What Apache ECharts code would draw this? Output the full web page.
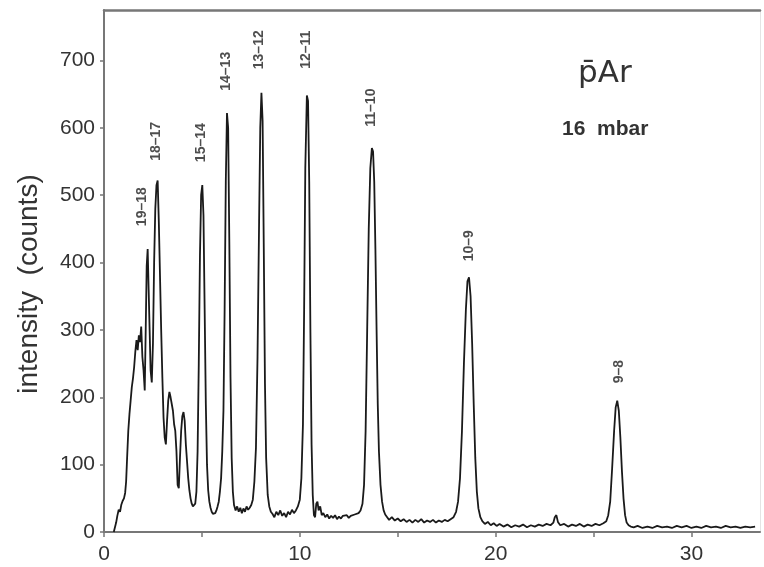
<!DOCTYPE html>
<html>
<head>
<meta charset="utf-8">
<script src="https://cdn.jsdelivr.net/npm/echarts@6/dist/echarts.min.js"></script>
<style>
  html, body { margin: 0; padding: 0; background: #fff; }
  #chart { width: 764px; height: 567px; }
</style>
</head>
<body>
<div id="chart"></div>
<script>
// x-ray energy (keV) and counts
var energy = [
  0.50, 0.56, 0.62, 0.68, 0.75, 0.82, 0.88, 0.95, 1.02, 1.08, 1.13, 1.18, 1.24, 1.30, 1.36, 1.42,
  1.48, 1.54, 1.60, 1.66, 1.72, 1.78, 1.84, 1.90, 1.96, 2.02, 2.08, 2.13, 2.18, 2.23, 2.28, 2.33,
  2.38, 2.44, 2.50, 2.56, 2.62, 2.68, 2.74, 2.80, 2.86, 2.92, 2.98, 3.04, 3.10, 3.16, 3.22, 3.28,
  3.34, 3.40, 3.46, 3.52, 3.58, 3.64, 3.70, 3.76, 3.82, 3.88, 3.94, 4.00, 4.06, 4.12, 4.18, 4.24,
  4.30, 4.36, 4.42, 4.48, 4.54, 4.60, 4.66, 4.72, 4.78, 4.84, 4.90, 4.96, 5.02, 5.08, 5.14, 5.20,
  5.26, 5.32, 5.38, 5.44, 5.50, 5.56, 5.62, 5.68, 5.74, 5.80, 5.86, 5.92, 5.98, 6.04, 6.10, 6.16,
  6.22, 6.28, 6.34, 6.40, 6.46, 6.52, 6.58, 6.64, 6.72, 6.80, 6.88, 6.96, 7.04, 7.12, 7.20, 7.28,
  7.36, 7.44, 7.52, 7.60, 7.68, 7.76, 7.84, 7.92, 7.98, 8.04, 8.10, 8.16, 8.22, 8.28, 8.36, 8.44,
  8.52, 8.60, 8.70, 8.80, 8.90, 9.00, 9.10, 9.20, 9.30, 9.40, 9.50, 9.60, 9.70, 9.80, 9.90, 10.00,
  10.08, 10.16, 10.22, 10.28, 10.36, 10.42, 10.48, 10.54, 10.60, 10.66, 10.72, 10.78, 10.84, 10.90, 10.96, 11.04,
  11.12, 11.20, 11.30, 11.40, 11.50, 11.60, 11.70, 11.80, 11.90, 12.00, 12.10, 12.20, 12.30, 12.40, 12.50, 12.60,
  12.70, 12.80, 12.90, 13.00, 13.10, 13.20, 13.28, 13.36, 13.44, 13.52, 13.60, 13.68, 13.74, 13.80, 13.86, 13.92,
  13.98, 14.04, 14.12, 14.20, 14.28, 14.36, 14.46, 14.56, 14.70, 14.85, 15.00, 15.15, 15.30, 15.45, 15.60, 15.75,
  15.90, 16.05, 16.20, 16.35, 16.50, 16.65, 16.80, 16.95, 17.10, 17.25, 17.40, 17.55, 17.70, 17.85, 17.98, 18.08,
  18.18, 18.28, 18.38, 18.48, 18.56, 18.64, 18.72, 18.80, 18.88, 18.96, 19.04, 19.12, 19.22, 19.32, 19.45, 19.60,
  19.75, 19.90, 20.05, 20.20, 20.40, 20.60, 20.80, 21.00, 21.20, 21.40, 21.60, 21.80, 22.00, 22.20, 22.40, 22.60,
  22.80, 22.95, 23.02, 23.10, 23.18, 23.30, 23.50, 23.70, 23.90, 24.10, 24.30, 24.50, 24.70, 24.90, 25.10, 25.30,
  25.50, 25.65, 25.75, 25.85, 25.95, 26.05, 26.13, 26.21, 26.29, 26.37, 26.45, 26.53, 26.61, 26.69, 26.79, 26.90,
  27.05, 27.25, 27.50, 27.75, 28.00, 28.25, 28.50, 28.75, 29.00, 29.25, 29.50, 29.75, 30.00, 30.25, 30.50, 30.75,
  31.00, 31.25, 31.50, 31.75, 32.00, 32.25, 32.50, 32.75, 33.00, 33.25, 33.50
];
var counts = [
  0, 2, 14, 24, 33, 30, 40, 46, 50, 58, 75, 110, 150, 175, 195, 215,
  228, 245, 268, 285, 270, 292, 282, 305, 260, 240, 210, 300, 395, 420, 360, 300,
  240, 222, 280, 400, 480, 515, 522, 460, 380, 300, 230, 170, 140, 130, 165, 195,
  208, 200, 190, 180, 160, 150, 120, 70, 65, 110, 150, 172, 178, 165, 130, 105,
  80, 62, 50, 42, 38, 36, 42, 60, 120, 250, 410, 500, 515, 470, 330, 190,
  100, 62, 45, 36, 30, 27, 25, 28, 32, 38, 45, 60, 80, 120, 180, 330,
  520, 622, 600, 430, 230, 110, 60, 40, 32, 38, 30, 36, 28, 35, 30, 38,
  33, 36, 40, 48, 75, 125, 260, 460, 600, 652, 610, 420, 220, 110, 55, 38,
  30, 27, 22, 30, 25, 32, 24, 28, 22, 30, 26, 33, 28, 32, 38, 48,
  80, 160, 330, 540, 648, 640, 520, 300, 130, 55, 25, 22, 42, 45, 32, 38,
  25, 28, 22, 26, 20, 24, 21, 25, 19, 23, 20, 24, 22, 25, 21, 24,
  22, 26, 24, 28, 32, 42, 70, 150, 300, 450, 540, 570, 565, 520, 420, 300,
  190, 120, 70, 45, 32, 26, 22, 18, 22, 17, 20, 16, 19, 15, 18, 14,
  18, 15, 19, 14, 17, 15, 18, 14, 17, 15, 18, 16, 19, 22, 30, 45,
  80, 150, 250, 330, 372, 378, 350, 280, 190, 110, 60, 35, 22, 16, 12, 15,
  10, 13, 9, 12, 8, 11, 7, 10, 8, 11, 7, 10, 8, 11, 9, 12,
  10, 14, 22, 25, 15, 10, 12, 8, 11, 9, 12, 8, 11, 9, 12, 10,
  13, 16, 25, 45, 95, 150, 185, 195, 180, 140, 90, 50, 25, 14, 10, 8,
  7, 9, 6, 8, 6, 9, 7, 8, 6, 9, 7, 9, 6, 8, 6,
  9, 7, 8, 6, 9, 7, 8, 6, 8, 7, 8
];

// transition labels and where they sit (data units)
var peakNames = ['19–18', '18–17', '15–14', '14–13', '13–12', '12–11', '11–10', '10–9', '9–8'];
var peakLabelX = [1.96, 2.68, 4.97, 6.25, 7.93, 10.33, 13.65, 18.65, 26.3];
var peakLabelY = [483, 580, 578, 684, 716, 716, 630, 425, 238];

var yTicks = [0, 100, 200, 300, 400, 500, 600, 700];

var spectrum = energy.map(function (e, i) { return [e, counts[i]]; });
var labelPts = peakNames.map(function (n, i) {
  return { name: n, value: [peakLabelX[i], peakLabelY[i]] };
});

var chart = echarts.init(document.getElementById('chart'));
var axisCol = '#777';
var textCol = '#333';
var sans = 'Liberation Sans, Arial, sans-serif';

var option = {
  backgroundColor: '#fff',
  animation: false,
  grid: { left: 104, right: 4, top: 10, bottom: 35 },
  xAxis: [{
    type: 'value', min: 0, max: 33.5, interval: 5,
    axisLine: { onZero: false, lineStyle: { color: axisCol, width: 2 } },
    axisTick: { show: true, length: 5, lineStyle: { color: axisCol, width: 1.5 } },
    axisLabel: {
      showMaxLabel: false, margin: 12, color: textCol, fontSize: 21, fontFamily: sans,
      formatter: function (v) { return v % 10 === 0 ? String(v) : ''; }
    },
    splitLine: { show: false }
  }, {
    type: 'value', min: 0, max: 33.5, position: 'top',
    axisLine: { show: true, onZero: false, lineStyle: { color: axisCol, width: 2.5 } },
    axisTick: { show: false }, axisLabel: { show: false }, splitLine: { show: false }
  }],
  yAxis: [{
    type: 'value', min: 0, max: 775, interval: 100,
    axisLine: { show: true, onZero: false, lineStyle: { color: axisCol, width: 2 } },
    axisTick: { show: true, length: 4, lineStyle: { color: axisCol, width: 1.5 } },
    axisLabel: {
      showMaxLabel: false, margin: 9, color: textCol, fontSize: 21, fontFamily: sans,
      formatter: function (v) { return yTicks.indexOf(v) >= 0 ? String(v) : ''; }
    },
    splitLine: { show: false }
  }, {
    type: 'value', min: 0, max: 775, position: 'right',
    axisLine: { show: true, onZero: false, lineStyle: { color: '#e4e4e4', width: 1 } },
    axisTick: { show: false }, axisLabel: { show: false }, splitLine: { show: false }
  }],
  series: [{
    type: 'line',
    data: spectrum,
    showSymbol: false,
    lineStyle: { color: '#1a1a1a', width: 1.8 },
    z: 3
  }, {
    type: 'scatter',
    data: labelPts,
    symbolSize: 0,
    label: {
      show: true, position: 'inside', rotate: 90,
      formatter: '{b}', fontSize: 14, fontWeight: 'bold', color: '#222', fontFamily: sans
    },
    z: 4
  }],
  graphic: [{
    type: 'text', x: 29, y: 284, rotation: Math.PI / 2,
    style: {
      text: 'intensity  (counts)', fontSize: 28, fill: textCol, fontFamily: sans,
      align: 'center', verticalAlign: 'middle'
    }
  }, {
    type: 'text', left: 578, top: 58,
    style: { text: 'p\u0304Ar', fontSize: 31, fill: textCol, fontFamily: 'DejaVu Sans, sans-serif' }
  }, {
    type: 'text', left: 562, top: 119,
    style: { text: '16  mbar', fontSize: 21, fontWeight: 'bold', fill: textCol, fontFamily: sans }
  }]
};
chart.setOption(option);
</script>
</body>
</html>
